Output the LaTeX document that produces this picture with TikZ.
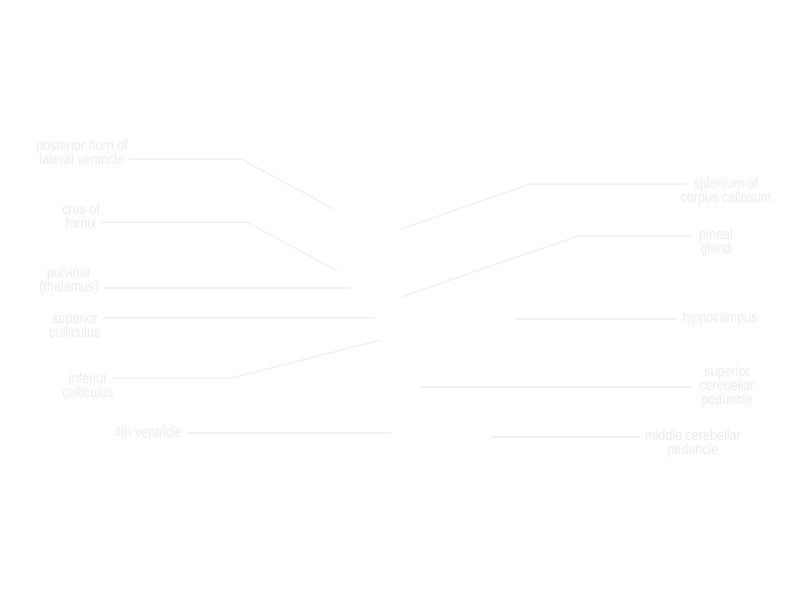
\documentclass[tikz,border=0pt]{standalone}
\usepackage{fontspec}
\setmainfont{Liberation Sans}[FakeStretch=0.85]
\definecolor{lbl}{RGB}{236,236,236}
\definecolor{ln}{RGB}{242,242,242}
\begin{document}
\begin{tikzpicture}[x=1pt,y=-1pt,
  lab/.style={text=lbl,align=center,inner sep=0pt,font=\fontsize{14.8}{14}\selectfont},
  lead/.style={draw=ln,line width=1.5pt}]
\useasboundingbox[fill=white] (0,0) rectangle (800,600);
% left labels
\node[lab] (l1) at (82,152) {posterior horn of\\lateral ventricle};
\node[lab] (l2) at (81,216) {crus of\\fornix};
\node[lab] (l3) at (69,281) {pulvinar\\(thalamus)};
\node[lab] (l4) at (75,325) {superior\\colliculus};
\node[lab] (l5) at (88,385) {inferior\\colliculus};
\node[lab] (l6) at (148,432) {4th ventricle};
% right labels
\node[lab] (r1) at (726,192) {splenium of\\corpus callosum};
\node[lab] (r2) at (716,243) {pineal\\gland};
\node[lab] (r3) at (720,319) {hippocampus};
\node[lab] (r4) at (727,387) {superior\\cerebellar\\peduncle};
\node[lab] (r5) at (693,444) {middle cerebellar\\peduncle};
% endpoints
\coordinate (e1) at (334,209);
\coordinate (e2) at (337,271);
\coordinate (e3) at (351,288);
\coordinate (e4) at (375,318);
\coordinate (e5) at (381,340);
\coordinate (e6) at (391,433);
\coordinate (f1) at (401,229);
\coordinate (f2) at (401,297);
\coordinate (f3) at (515,319);
\coordinate (f4) at (421,387);
\coordinate (f5) at (491,437);
% leaders
\draw[lead] (129,159) -- (241,159) -- (e1);
\draw[lead] (101,222) -- (247,222) -- (e2);
\draw[lead] (104,288) -- (e3);
\draw[lead] (103,318) -- (e4);
\draw[lead] (113,378) -- (231,378) -- (e5);
\draw[lead] (187,433) -- (e6);
\draw[lead] (687,184) -- (530,184) -- (f1);
\draw[lead] (693,236) -- (578,236) -- (f2);
\draw[lead] (677,319) -- (f3);
\draw[lead] (692,387) -- (f4);
\draw[lead] (640,437) -- (f5);
\end{tikzpicture}
\end{document}
